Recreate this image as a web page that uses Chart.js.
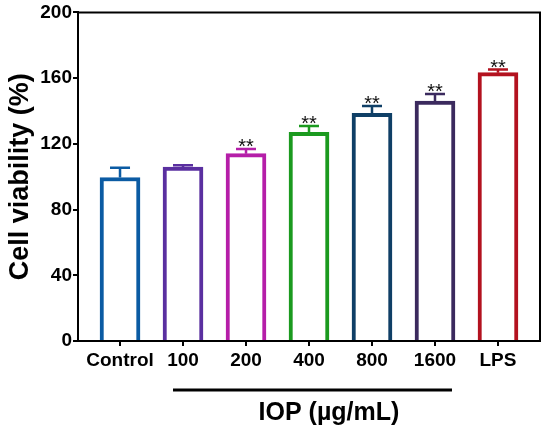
<!DOCTYPE html>
<html>
<head>
<meta charset="utf-8">
<script src="https://cdn.jsdelivr.net/npm/chart.js@4"></script>
<style>
  body { margin: 0; background: #fff; }
  #wrap { width: 550px; height: 430px; }
</style>
</head>
<body>
<div id="wrap"><canvas id="viabilityChart"></canvas></div>
<script>
const labels = ["Control", "100", "200", "400", "800", "1600", "LPS"];
const viability = [99.5, 105.8, 114, 127, 138.5, 146, 163.3];
const errors = [6, 1.2, 2.8, 3.8, 4.6, 4.4, 1.9];
const signif = ["", "", "**", "**", "**", "**", "**"];
const colors = ["#0b5ba3", "#5a2fa0", "#b51ea8", "#1b9a1f", "#0f3f66", "#3b2a5e", "#b3121f"];
const yTicks = [0, 40, 80, 120, 160, 200];
const groupLabel = "IOP (µg/mL)";

const FONT = "'Liberation Sans', Arial, sans-serif";

/* error bars + stars */
const errorBars = {
  id: "errorBars",
  afterDatasetsDraw(chart) {
    const ctx = chart.ctx;
    const y = chart.scales.y;
    chart.getDatasetMeta(0).data.forEach((bar, i) => {
      const top = y.getPixelForValue(viability[i] + errors[i]);
      ctx.save();
      ctx.strokeStyle = colors[i];
      ctx.lineWidth = 2.5;
      ctx.beginPath();
      ctx.moveTo(bar.x, bar.y);
      ctx.lineTo(bar.x, top);
      ctx.moveTo(bar.x - 10, top);
      ctx.lineTo(bar.x + 10, top);
      ctx.stroke();
      if (signif[i]) {
        ctx.fillStyle = "#111";
        ctx.font = "20px " + FONT;
        ctx.textAlign = "center";
        ctx.textBaseline = "alphabetic";
        ctx.fillText(signif[i], bar.x, top + 4);
      }
      ctx.restore();
    });
  }
};

/* top/right frame + group line under doses */
const extras = {
  id: "extras",
  afterDraw(chart) {
    const ctx = chart.ctx;
    const a = chart.chartArea;
    const xs = chart.scales.x;
    ctx.save();
    ctx.strokeStyle = "#000";
    ctx.lineWidth = 2;
    ctx.beginPath();
    ctx.moveTo(a.left, a.top);
    ctx.lineTo(a.right, a.top);
    ctx.lineTo(a.right, a.bottom);
    ctx.stroke();

    ctx.lineWidth = 3;
    ctx.beginPath();
    ctx.moveTo(xs.getPixelForValue(1) - 10, 390);
    ctx.lineTo(xs.getPixelForValue(5) + 17, 390);
    ctx.stroke();

    ctx.fillStyle = "#000";
    ctx.font = "bold 25px " + FONT;
    ctx.textAlign = "center";
    ctx.textBaseline = "alphabetic";
    ctx.fillText(groupLabel, 329, 420);
    ctx.restore();
  }
};

new Chart(document.getElementById("viabilityChart"), {
  type: "bar",
  data: {
    datasets: [{
      data: viability.map((v, i) => ({ x: i, y: v })),
      backgroundColor: "#fff",
      borderColor: colors,
      borderWidth: 4,
      borderSkipped: "start",
      barThickness: 40
    }]
  },
  options: {
    responsive: true,
    maintainAspectRatio: false,
    animation: false,
    layout: { padding: { top: 12, right: 10, left: 0, bottom: 0 } },
    plugins: { legend: { display: false }, tooltip: { enabled: false } },
    scales: {
      x: {
        type: "linear",
        offset: false,
        min: -0.667,
        max: labels.length - 1 + 0.667,
        afterBuildTicks: s => { s.ticks = labels.map((l, i) => ({ value: i })); },
        afterFit: s => { s.height = 89; },
        ticks: {
          callback: v => labels[v],
          color: "#000",
          font: { family: FONT, size: 19, weight: "bold" },
          padding: 3,
          maxRotation: 0,
          autoSkip: false
        },
        grid: { offset: false, drawOnChartArea: false, tickLength: 5, color: "#000", lineWidth: 2 },
        border: { color: "#000", width: 2 }
      },
      y: {
        min: 0,
        max: 200,
        afterBuildTicks: s => { s.ticks = yTicks.map(v => ({ value: v })); },
        afterFit: s => { s.width = 78; },
        ticks: {
          color: "#000",
          font: { family: FONT, size: 19, weight: "bold" },
          padding: 1
        },
        grid: { drawOnChartArea: false, tickLength: 5, color: "#000", lineWidth: 2 },
        border: { color: "#000", width: 2 },
        title: {
          display: true,
          text: "Cell viability (%)",
          color: "#000",
          font: { family: FONT, size: 27, weight: "bold" },
          padding: { top: 4, bottom: 0 }
        }
      }
    }
  },
  plugins: [errorBars, extras]
});
</script>
</body>
</html>
